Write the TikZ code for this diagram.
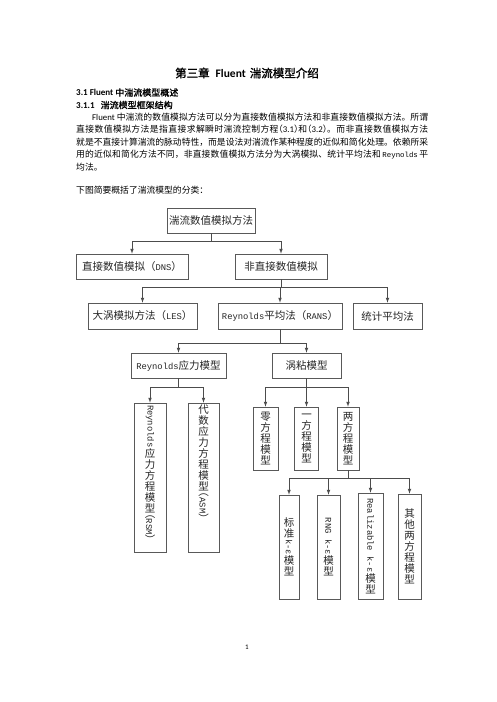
\documentclass[tikz,border=0pt]{standalone}
\usepackage{fontspec}
\usepackage{graphicx}
\setmainfont{Noto Sans CJK SC}[BoldFont={Noto Sans CJK SC},BoldFeatures={FakeBold=1.5}]
\setmonofont{Liberation Mono}[Scale=0.84]
\newfontfamily\latinfont{Carlito}
\newfontfamily\halffont{Noto Sans CJK SC}[RawFeature=+halt]
\XeTeXlinebreaklocale "zh"
\XeTeXlinebreakskip=0pt plus 2pt minus 0.4pt
\usetikzlibrary{arrows}

\newcommand\dfont{\fontsize{10.5}{11}\selectfont}
\newcommand\lpar{{\halffont （}}
\newcommand\rpar{{\halffont ）}}
\newcommand\pline[1]{\parbox[t]{352pt}{\parindent=0pt\parfillskip=0pt\relax #1}}
\newcommand\rt[1]{\rotatebox[origin=c]{-90}{#1}}
\newcommand\topcol[2]{\parbox[c][#1][t]{20pt}{\centering #2}}

\begin{document}
\begin{tikzpicture}[x=1pt,y=-1pt,
    box/.style={draw=black!65, line width=0.7pt, inner sep=0pt, text=black!85, font=\dfont},
    hbox/.style={box, minimum height=25pt},
    link/.style={draw=black!70, line width=0.7pt, ->, >=latex}]
  \fill[white] (0,0) rectangle (496,702);
  \useasboundingbox (0,0) rectangle (496,702);

  % page text
  \node[font=\fontsize{11.5}{14}\selectfont\bfseries] (title) at (247,73)
    {第三章\hspace{6pt}{\latinfont Fluent}\hspace{4pt}湍流模型介绍};
  \node[anchor=west, inner sep=0pt, font=\fontsize{9}{11}\selectfont\bfseries] (sec) at (76,92.5)
    {{\latinfont 3.1 Fluent }中湍流模型概述};
  \node[anchor=west, inner sep=0pt, font=\fontsize{9}{11}\selectfont\bfseries] (subsec) at (76,105)
    {{\latinfont 3.1.1}\hspace{6pt}湍流模型框架结构};
  \node[anchor=north west, inner sep=0pt, align=left, font=\fontsize{8.8}{12.5}\selectfont] (para) at (76,112.5)
    {\pline{\hspace*{16pt}{\latinfont Fluent} 中湍流的数值模拟方法可以分为直接数值模拟方法和非直接数值模拟方法。所谓}\\
     \pline{直接数值模拟方法是指直接求解瞬时湍流控制方程\lpar{\latinfont 3.1}\rpar 和\lpar{\latinfont 3.2}\rpar 。而非直接数值模拟方法}\\
     \pline{就是不直接计算湍流的脉动特性，而是设法对湍流作某种程度的近似和简化处理。依赖所采}\\
     \pline{用的近似和简化方法不同，非直接数值模拟方法分为大涡模拟、统计平均法和\,{\ttfamily Reynolds}\,平}\\
     均法。};
  \node[anchor=west, inner sep=0pt, font=\fontsize{8.8}{12.5}\selectfont] (intro) at (76,190)
    {下图简要概括了湍流模型的分类：};

  % diagram
  \node[hbox, minimum width=88pt] (top) at (211,220.5) {湍流数值模拟方法};
  \node[hbox, minimum width=112pt] (dns) at (132,266.5) {直接数值模拟（{\ttfamily DNS}）};
  \node[hbox, minimum width=92pt] (ind) at (281,266.5) {非直接数值模拟};
  \node[hbox, minimum width=109pt, minimum height=26pt] (les) at (142.5,316) {大涡模拟方法（{\ttfamily LES}）};
  \node[hbox, minimum width=124pt, minimum height=26pt] (rans) at (280,316) {{\ttfamily Reynolds}平均法（{\ttfamily RANS}）};
  \node[hbox, minimum width=69pt, minimum height=26pt] (stat) at (387.5,316) {统计平均法};
  \node[hbox, minimum width=95pt] (rsmod) at (178.5,365.5) {{\ttfamily Reynolds}应力模型};
  \node[hbox, minimum width=69pt] (eddy) at (306.5,365.5) {涡粘模型};

  \node[box, minimum width=32pt, minimum height=149pt] (rsm) at (150,477.5)
    {\topcol{145pt}{\rt{\ttfamily Reynolds}\\应\\力\\方\\程\\模\\型\\\rt{\lpar\texttt{RSM}\rpar}}};
  \node[box, minimum width=31pt, minimum height=149pt] (asm) at (203.5,477.5)
    {\topcol{145pt}{代\\数\\应\\力\\方\\程\\模\\型\\\rt{\lpar\texttt{ASM}\rpar}}};
  \node[box, align=center, minimum width=25pt, minimum height=63pt] (zero) at (265.5,438.5) {零\\方\\程\\模\\型};
  \node[box, align=center, minimum width=24pt, minimum height=63pt] (one) at (306.5,438.5) {一\\方\\程\\模\\型};
  \node[box, align=center, minimum width=22pt, minimum height=63pt] (two) at (348,438.5) {两\\方\\程\\模\\型};
  \node[box, align=center, minimum width=20pt, minimum height=104pt] (std) at (289,547) {标\\准\\\rt{\ttfamily k-ε}\\模\\型};
  \node[box, align=center, minimum width=23pt, minimum height=104pt] (rng) at (328.5,547) {\rt{\ttfamily RNG k-ε}\\模\\型};
  \node[box, align=center, minimum width=25pt, minimum height=106pt] (real) at (370.5,546) {\rt{\ttfamily Realizable k-ε}\\模\\型};
  \node[box, align=center, minimum width=23pt, minimum height=105pt] (other) at (409.5,546.5) {其\\他\\两\\方\\程\\模\\型};

  \draw[link] (top.south) -- ++(0,8) coordinate (j1) -| (dns.north);
  \draw[link] (j1) -| (ind.north);
  \draw[link] (ind.south) -- ++(0,8) coordinate (j2) -| (les.north);
  \draw[link] (j2) -| (rans.north);
  \draw[link] (j2) -| (stat.north);
  \draw[link] (rans.south) -- ++(0,14) coordinate (j3) -| (rsmod.north);
  \draw[link] (j3) -| (eddy.north);
  \draw[link] (rsmod.south) -- ++(0,9) coordinate (j4) -| (rsm.north);
  \draw[link] (j4) -| (asm.north);
  \draw[link] (eddy.south) -- ++(0,9) coordinate (j5) -| (zero.north);
  \draw[link] (j5) -| (one.north);
  \draw[link] (j5) -| (two.north);
  \draw[link] (two.south) -- ++(0,8) coordinate (j6) -| (std.north);
  \draw[link] (j6) -| (rng.north);
  \draw[link] (j6) -| (real.north);
  \draw[link] (j6) -| (other.north);

  \node[font=\fontsize{7}{8}\selectfont\latinfont] (page) at (247,647) {1};
\end{tikzpicture}
\end{document}
